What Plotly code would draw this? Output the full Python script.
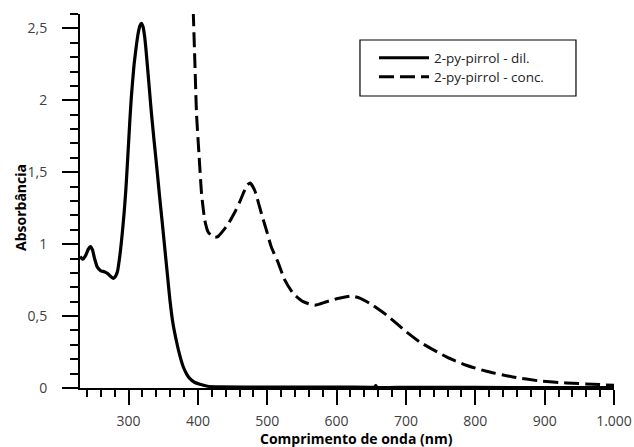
import plotly.graph_objects as go

# ---- data ----
wl_dil = [230, 234, 238, 242, 245, 248, 251, 255, 260, 265, 270, 275, 278, 281, 284, 288, 290, 292,
          294, 296, 298, 300, 302, 304, 306, 308, 311, 314, 316.5, 318.5, 321, 323, 325, 327, 330,
          333, 337, 341, 345, 349, 352.5, 356, 359.7, 364, 369.3, 374, 379, 384, 388.5, 395, 403,
          414, 430, 500, 600, 650, 655, 656.5, 658, 700, 800, 900, 1000]
abs_dil = [0.913, 0.895, 0.92, 0.965, 0.983, 0.96, 0.9, 0.84, 0.815, 0.808, 0.795, 0.772, 0.762,
           0.775, 0.81, 0.94, 1.03, 1.13, 1.24, 1.37, 1.53, 1.70, 1.87, 2.02, 2.14, 2.25, 2.37, 2.47,
           2.52, 2.535, 2.51, 2.45, 2.36, 2.25, 2.08, 1.91, 1.71, 1.52, 1.32, 1.13, 0.96, 0.79, 0.61,
           0.45, 0.32, 0.225, 0.146, 0.095, 0.065, 0.04, 0.026, 0.012, 0.008, 0.006, 0.006, 0.005,
           0.006, 0.016, 0.005, 0.005, 0.004, 0.003, 0.003]

wl_conc = [393.3, 395.7, 398, 401.5, 405.3, 410, 414.9, 420, 424.5, 428, 434, 443.7, 453, 460, 466,
           471, 475.5, 482, 491.8, 499, 506, 515, 525.4, 537.4, 551.8, 568.6, 585.5, 600, 614, 622,
           633.5, 648, 672, 700.8, 720, 758.4, 787, 816, 854, 893, 931, 969.6, 1000]
abs_conc = [2.62, 2.256, 1.907, 1.63, 1.35, 1.164, 1.083, 1.058, 1.048, 1.05, 1.08, 1.14, 1.22, 1.29,
            1.36, 1.41, 1.425, 1.373, 1.21, 1.094, 0.978, 0.88, 0.75, 0.657, 0.6, 0.576, 0.6, 0.62,
            0.634, 0.639, 0.625, 0.588, 0.507, 0.39, 0.32, 0.216, 0.158, 0.116, 0.077, 0.049, 0.035,
            0.026, 0.019]

series_names = ["2-py-pirrol - dil.", "2-py-pirrol - conc."]

x_tick_vals = [300, 400, 500, 600, 700, 800, 900, 1000]
x_tick_text = ["300", "400", "500", "600", "700", "800", "900", "1.000"]
y_tick_vals = [0, 0.5, 1, 1.5, 2, 2.5]
y_tick_text = ["0", "0,5", "1", "1,5", "2", "2,5"]

x_title = "Comprimento de onda (nm)"
y_title = "Absorbância"

FONT = "Open Sans"

fig = go.Figure()
fig.add_trace(go.Scatter(x=wl_dil, y=abs_dil, mode="lines", name=series_names[0], legend="legend",
                         line=dict(color="black", width=3.2, shape="spline", smoothing=0.5)))
fig.add_trace(go.Scatter(x=wl_conc, y=abs_conc, mode="lines", name=series_names[1], legend="legend2",
                         line=dict(color="black", width=3, dash="15px,6px", shape="spline", smoothing=0.5)))

axis_common = dict(showline=True, linecolor="black", linewidth=2, ticks="outside",
                   tickcolor="black", tickwidth=2, showgrid=False, zeroline=False, automargin=False,
                   tickfont=dict(family=FONT, size=14, color="#404040"))

fig.update_xaxes(range=[230, 1000], tickmode="array", tickvals=x_tick_vals, ticktext=x_tick_text,
                 ticklen=15, ticklabelstandoff=4,
                 minor=dict(ticks="outside", ticklen=7, tickwidth=2, tickcolor="black",
                            tick0=0, dtick=20, showgrid=False),
                 **axis_common)
fig.update_yaxes(range=[0, 2.6], tickmode="array", tickvals=y_tick_vals, ticktext=y_tick_text,
                 ticklen=16, ticklabelstandoff=12,
                 minor=dict(ticks="outside", ticklen=8, tickwidth=2, tickcolor="black",
                            tick0=0, dtick=0.1, showgrid=False),
                 **axis_common)

fig.add_annotation(text="<b>%s</b>" % x_title, xref="paper", yref="paper", x=0.518, y=-0.136,
                   xanchor="center", yanchor="middle", showarrow=False,
                   font=dict(family=FONT, size=14, color="black"))
fig.add_annotation(text="<b>%s</b>" % y_title, xref="paper", yref="paper", x=-0.1105, y=0.484,
                   xanchor="center", yanchor="middle", textangle=-90, showarrow=False,
                   font=dict(family=FONT, size=14, color="black"))

# legend frame
fig.add_shape(type="rect", xref="paper", yref="paper", x0=0.5243, x1=0.9288, y0=0.7807, y1=0.9305,
              line=dict(color="black", width=1.2), fillcolor="rgba(0,0,0,0)")

leg_common = dict(xanchor="left", yanchor="middle", bgcolor="rgba(0,0,0,0)", borderwidth=0,
                  itemwidth=50, font=dict(family=FONT, size=13.5, color="#222222"))

fig.update_layout(
    width=634, height=447,
    margin=dict(l=80, r=20, t=14, b=59, pad=0, autoexpand=False),
    paper_bgcolor="white", plot_bgcolor="white",
    showlegend=True,
    legend=dict(x=0.5506, y=0.8824, **leg_common),
    legend2=dict(x=0.5506, y=0.8316, **leg_common),
)

fig.write_html("out.html", config={"displayModeBar": False},
               post_script="document.body.style.margin='0';")
